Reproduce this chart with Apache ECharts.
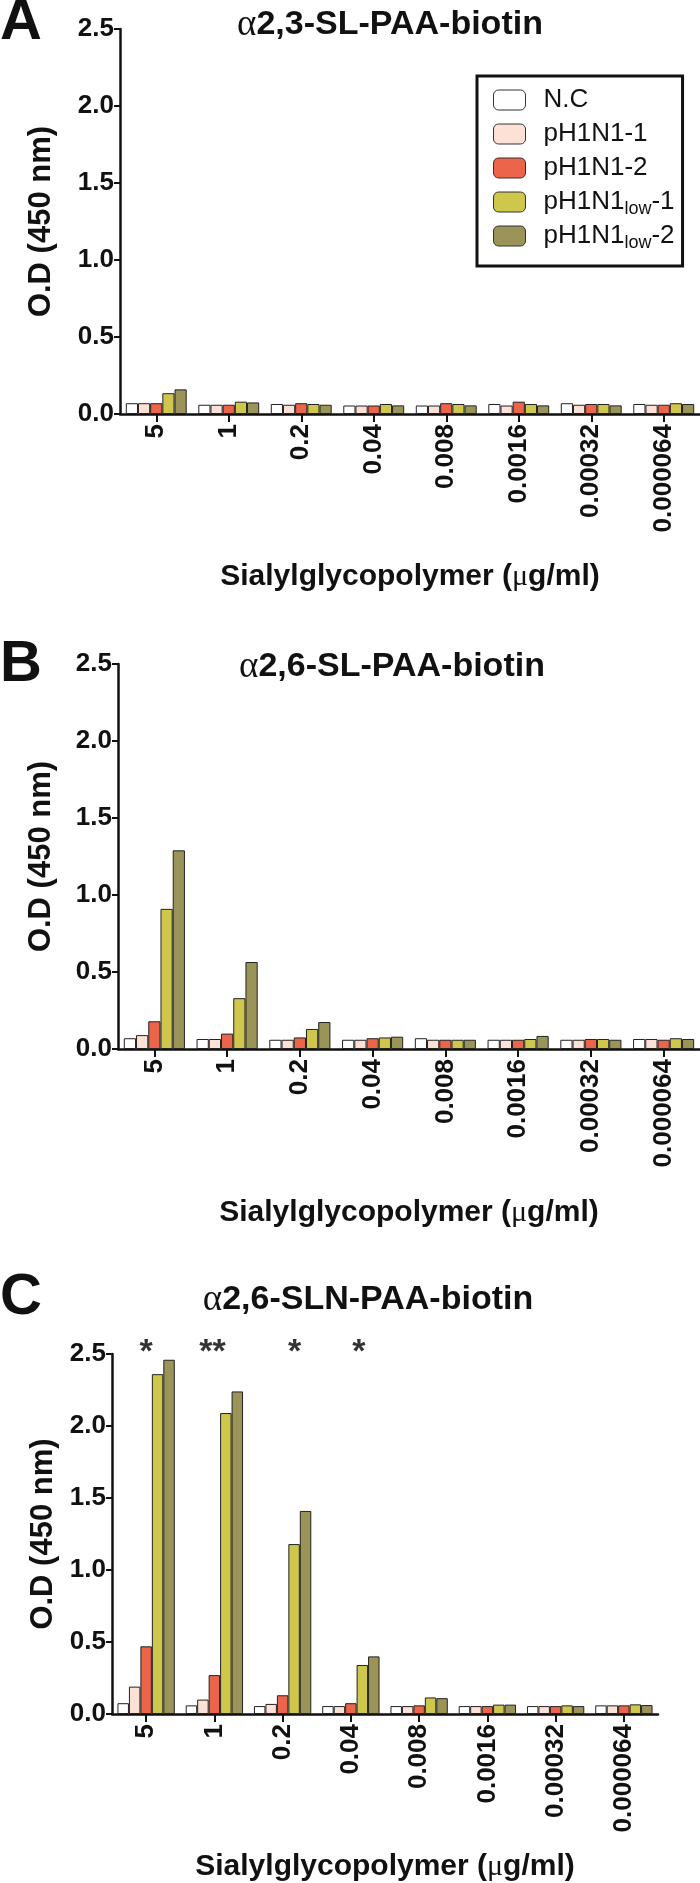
<!DOCTYPE html>
<html>
<head>
<meta charset="utf-8">
<script src="https://cdn.jsdelivr.net/npm/echarts@6/dist/echarts.min.js"></script>
<style>
html,body{margin:0;padding:0;background:#fff;}
#chart{width:700px;height:1883px;}
</style>
</head>
<body>
<div id="chart"></div>
<script>
// ---- data ----
const categories = ['5', '1', '0.2', '0.04', '0.008', '0.0016', '0.00032', '0.000064'];
const seriesNames = ['N.C', 'pH1N1-1', 'pH1N1-2', 'pH1N1low-1', 'pH1N1low-2'];
const yTicks = [0, 0.5, 1.0, 1.5, 2.0, 2.5];

// Panel A: a2,3-SL-PAA-biotin
const a_NC    = [0.07, 0.06, 0.065, 0.055, 0.055, 0.065, 0.07, 0.065];
const a_pH1   = [0.07, 0.06, 0.06, 0.055, 0.055, 0.055, 0.06, 0.06];
const a_pH2   = [0.07, 0.06, 0.07, 0.055, 0.07, 0.08, 0.065, 0.06];
const a_low1  = [0.135, 0.08, 0.065, 0.065, 0.065, 0.065, 0.065, 0.07];
const a_low2  = [0.16, 0.075, 0.06, 0.056, 0.056, 0.056, 0.056, 0.065];

// Panel B: a2,6-SL-PAA-biotin
const b_NC    = [0.07, 0.065, 0.06, 0.06, 0.07, 0.06, 0.06, 0.065];
const b_pH1   = [0.09, 0.065, 0.06, 0.06, 0.06, 0.06, 0.06, 0.065];
const b_pH2   = [0.18, 0.10, 0.075, 0.07, 0.06, 0.06, 0.065, 0.06];
const b_low1  = [0.91, 0.33, 0.13, 0.075, 0.06, 0.065, 0.065, 0.07];
const b_low2  = [1.29, 0.565, 0.175, 0.08, 0.06, 0.085, 0.06, 0.065];

// Panel C: a2,6-SLN-PAA-biotin
const c_NC    = [0.075, 0.06, 0.055, 0.055, 0.055, 0.055, 0.055, 0.06];
const c_pH1   = [0.19, 0.10, 0.07, 0.055, 0.055, 0.055, 0.055, 0.06];
const c_pH2   = [0.47, 0.27, 0.13, 0.075, 0.06, 0.055, 0.055, 0.06];
const c_low1  = [2.36, 2.09, 1.18, 0.34, 0.115, 0.065, 0.06, 0.067];
const c_low2  = [2.46, 2.24, 1.41, 0.40, 0.11, 0.065, 0.055, 0.062];
const c_sig   = ['*', '**', '*', '*', '', '', '', ''];

const panelTitles = ['2,3-SL-PAA-biotin', '2,6-SL-PAA-biotin', '2,6-SLN-PAA-biotin'];
const panelLetters = ['A', 'B', 'C'];
const colors = ['#ffffff', '#fde1d7', '#ec6449', '#cfc64c', '#9b9459'];

// ---- layout ----
const FONT = 'Liberation Sans, Arial, sans-serif';
const grids = [
  {left: 120, top: 29, width: 580, height: 385},
  {left: 118, top: 664, width: 582, height: 385},
  {left: 112, top: 1354, width: 546, height: 361}
];
const yNameGap = [63, 61, 53];
const xNameGap = [148, 149, 138];
const titleY = [25, 667, 1300];
const titleX = [390, 392, 368];
const sigOffsetX = [0, -2, 12, 8, 0, 0, 0, 0];

const panelData = [
  [a_NC, a_pH1, a_pH2, a_low1, a_low2],
  [b_NC, b_pH1, b_pH2, b_low1, b_low2],
  [c_NC, c_pH1, c_pH2, c_low1, c_low2]
];

const xAxes = [], yAxes = [], series = [], graphics = [];
grids.forEach((g, i) => {
  xAxes.push({
    type: 'category', gridIndex: i, data: categories,
    axisLine: {show: true, lineStyle: {color: '#111', width: 2.5}},
    axisTick: {show: true, alignWithLabel: true, length: 8, lineStyle: {color: '#111', width: 2}},
    axisLabel: {rotate: 90, color: '#111', fontFamily: FONT, fontWeight: 'bold', fontSize: 26, margin: 10},
    name: 'Sialylglycopolymer ({m|μ}g/ml)',
    nameLocation: 'middle', nameGap: xNameGap[i],
    nameTextStyle: {color: '#111', fontFamily: FONT, fontWeight: 'bold', fontSize: 30,
      rich: {m: {fontFamily: 'Liberation Serif, serif', fontWeight: 'normal', fontSize: 30, color: '#111'}}}
  });
  yAxes.push({
    type: 'value', gridIndex: i, min: 0, max: 2.5, interval: 0.5,
    axisLine: {show: true, lineStyle: {color: '#111', width: 2.5}},
    axisTick: {show: true, length: 6, lineStyle: {color: '#111', width: 2}},
    splitLine: {show: false},
    axisLabel: {color: '#111', fontFamily: FONT, fontWeight: 'bold', fontSize: 26, margin: 6,
      formatter: v => v.toFixed(1)},
    name: 'O.D (450 nm)', nameLocation: 'middle', nameGap: yNameGap[i], nameRotate: 90,
    nameTextStyle: {color: '#111', fontFamily: FONT, fontWeight: 'bold', fontSize: 31}
  });
  panelData[i].forEach((arr, k) => {
    series.push({
      type: 'bar', name: seriesNames[k], xAxisIndex: i, yAxisIndex: i, data: arr,
      barGap: '0%', barCategoryGap: '16%',
      itemStyle: {color: colors[k], borderColor: '#222', borderWidth: 1},
      emphasis: {disabled: true}
    });
  });
  graphics.push({
    type: 'text', x: 0, y: titleY[i] - 2,
    style: {text: panelLetters[i], fontFamily: FONT, fontWeight: 'bold', fontSize: 58,
      fill: '#111', verticalAlign: 'middle', align: 'left'}
  });
  graphics.push({
    type: 'text', x: titleX[i], y: titleY[i],
    style: {text: '{a|α}{b|' + panelTitles[i] + '}', align: 'center', verticalAlign: 'middle',
      rich: {
        a: {fontFamily: 'Liberation Serif, serif', fontSize: 37, fill: '#111', fontWeight: 'normal'},
        b: {fontFamily: FONT, fontSize: 34, fill: '#111', fontWeight: 'bold'}
      }}
  });
});

// significance marks above panel C
series.push({
  type: 'scatter', name: 'sig', xAxisIndex: 2, yAxisIndex: 2, clip: false,
  symbolSize: 0, silent: true,
  data: categories.map((c, idx) => ({value: [idx, 2.5],
    label: {formatter: c_sig[idx], offset: [sigOffsetX[idx], -1]}})),
  label: {show: true, position: 'inside', color: '#000',
    fontFamily: FONT, fontSize: 34, fontWeight: 'bold'}
});

const chart = echarts.init(document.getElementById('chart'), null, {renderer: 'canvas'});
chart.setOption({
  animation: false,
  backgroundColor: '#fff',
  grid: grids,
  xAxis: xAxes,
  yAxis: yAxes,
  legend: {
    data: seriesNames, orient: 'vertical', left: 477, top: 76,
    borderColor: '#111', borderWidth: 3, padding: [8, 8, 14, 16],
    itemWidth: 32, itemHeight: 20, itemGap: 2,
    itemStyle: {borderColor: '#333', borderWidth: 1},
    selectedMode: false,
    formatter: n => n.replace('low', '{s|low}'),
    textStyle: {color: '#111', fontFamily: FONT, fontSize: 26, lineHeight: 32, padding: [0, 0, 0, 13],
      rich: {s: {fontFamily: FONT, fontSize: 18, lineHeight: 16, color: '#111', verticalAlign: 'bottom'}}}
  },
  graphic: graphics,
  series: series
});
</script>
</body>
</html>
